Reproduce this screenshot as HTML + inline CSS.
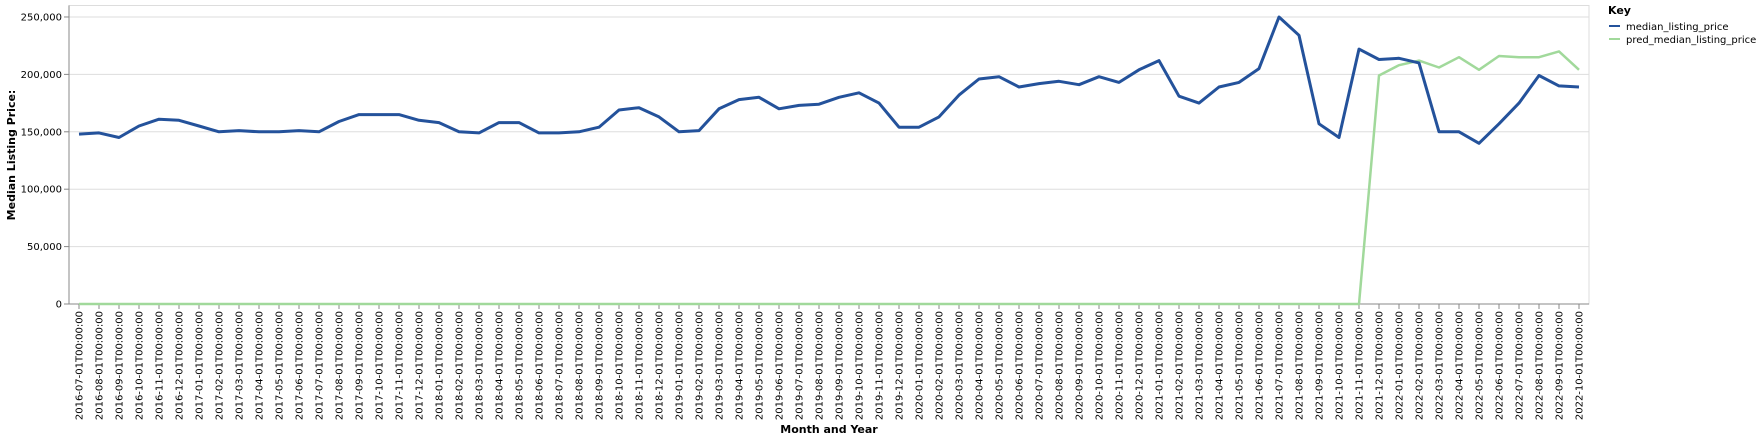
<!DOCTYPE html>
<html><head><meta charset="utf-8"><style>
body{margin:0;background:#fff;}
svg text{font-family:"DejaVu Sans","Liberation Sans",sans-serif;fill:#000;}
</style></head><body>
<svg id="chart" width="1759" height="442" xmlns="http://www.w3.org/2000/svg">
<g id="grid"></g>
<g id="xaxis"></g>
<g id="yaxis"></g>
<g id="series"></g>
<text x="829" y="433" text-anchor="middle" font-size="11" font-weight="bold">Month and Year</text>
<text transform="translate(15,155) rotate(-90)" text-anchor="middle" font-size="11" font-weight="bold">Median Listing Price:</text>
<g>
<text x="1608" y="14" font-size="11" font-weight="bold">Key</text>
<g><line x1="1609" y1="26" x2="1620" y2="26" stroke="#24529b" stroke-width="2"/><text x="1626" y="30" font-size="10">median_listing_price</text></g>
<g><line x1="1609" y1="39" x2="1620" y2="39" stroke="#a1d99b" stroke-width="2"/><text x="1626" y="43" font-size="10">pred_median_listing_price</text></g>
</g>
</svg>
<script>
const yTicks=[0,50000,100000,150000,200000,250000];
const median=[148,149,145,155,161,160,155,150,151,150,150,151,150,159,165,165,165,160,158,150,149,158,158,149,149,150,154,169,171,163,150,151,170,178,180,170,173,174,180,184,175,154,154,163,182,196,198,189,192,194,191,198,193,204,212,181,175,189,193,205,250,234,157,145,222,213,214,210,150,150,140,157,175,199,190,189];
const pred=[0,0,0,0,0,0,0,0,0,0,0,0,0,0,0,0,0,0,0,0,0,0,0,0,0,0,0,0,0,0,0,0,0,0,0,0,0,0,0,0,0,0,0,0,0,0,0,0,0,0,0,0,0,0,0,0,0,0,0,0,0,0,0,0,0,199,208,212,206,215,204,216,215,215,220,204];
const startYear=2016,startMonth=7;
const categories=[];
for(let i=0;i<median.length;i++){const m=startMonth-1+i;const y=startYear+Math.floor(m/12);const mm=String(m%12+1).padStart(2,'0');categories.push(y+'-'+mm+'-01T00:00:00');}
const L=69,R=1589,T=5.5,B=304,YMAX=260000;
const ns='http://www.w3.org/2000/svg';
const n=categories.length;
function x(i){return 79+i*(1579-79)/(n-1);}
function y(v){return B-(v/YMAX)*(B-T);}
function mk(tag,attrs,parent){const e=document.createElementNS(ns,tag);for(const k in attrs)e.setAttribute(k,attrs[k]);parent.appendChild(e);return e;}
const grid=document.getElementById('grid'),xa=document.getElementById('xaxis'),ya=document.getElementById('yaxis'),ser=document.getElementById('series');
const frame=mk('rect',{x:L,y:T,width:R-L,height:B-T,fill:'none',stroke:'#ddd'},grid);


yTicks.forEach(v=>{
 const g=mk('line',{x1:L,x2:R,y1:y(v),y2:y(v),stroke:'#ddd'},grid);
 
 
 mk('line',{x1:L-5,x2:L,y1:y(v),y2:y(v),stroke:'#888'},ya);
 const t=mk('text',{x:L-7,y:y(v)+3.5,'text-anchor':'end','font-size':10},ya);
 
 
 t.textContent=v.toLocaleString('en-US');
});
mk('line',{x1:L,x2:L,y1:T,y2:B,stroke:'#888'},ya);
mk('line',{x1:L,x2:R,y1:B,y2:B,stroke:'#888'},xa);
categories.forEach((c,i)=>{
 mk('line',{x1:x(i),x2:x(i),y1:B,y2:B+5,stroke:'#888'},xa);
 const t=mk('text',{transform:`translate(${x(i)+3.5},${B+7}) rotate(-90)`,'text-anchor':'end','font-size':10},xa);
 
 
 t.textContent=c;
});
function line(vals,color,w,name){
 const p=mk('path',{d:vals.map((v,i)=>(i?'L':'M')+x(i).toFixed(1)+','+y(v*1000).toFixed(1)).join(''),fill:'none',stroke:color,'stroke-width':w,'stroke-linejoin':'round'},ser);
 
 
}
line(pred,'#a1d99b',2.5,'pred-median-listing-price-line');
line(median,'#24529b',3,'median-listing-price-line');
</script>
</body></html>
